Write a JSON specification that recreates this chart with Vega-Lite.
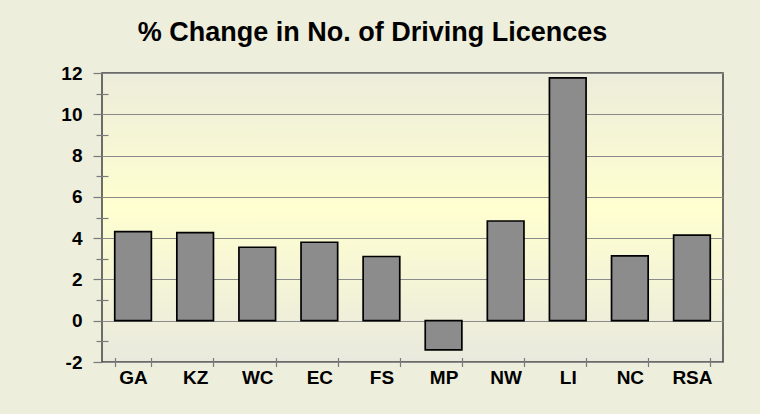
{
  "$schema": "https://vega.github.io/schema/vega-lite/v6.json",
  "width": 621,
  "height": 289,
  "autosize": "none",
  "padding": {"left": 102, "top": 73, "right": 37, "bottom": 52},
  "background": "#eeeedc",
  "view": {
    "fill": {
      "gradient": "linear",
      "x1": 0, "y1": 0, "x2": 0, "y2": 1,
      "stops": [
        {"offset": 0, "color": "#ececdb"},
        {"offset": 0.46, "color": "#ffffd0"},
        {"offset": 1, "color": "#e9e9de"}
      ]
    },
    "stroke": "#404040",
    "strokeWidth": 1.5
  },
  "title": {
    "text": "% Change in No. of Driving Licences",
    "font": "Liberation Sans",
    "fontSize": 27,
    "fontWeight": "bold",
    "color": "#000000",
    "anchor": "middle",
    "frame": "group",
    "dx": -40,
    "offset": 17
  },
  "config": {
    "font": "Liberation Sans",
    "axis": {
      "labelFont": "Liberation Sans",
      "labelFontSize": 19,
      "labelFontWeight": "bold",
      "labelColor": "#000000",
      "title": null
    }
  },
  "data": {
    "values": [
      {"region": "GA", "change": 4.32},
      {"region": "KZ", "change": 4.27},
      {"region": "WC", "change": 3.56},
      {"region": "EC", "change": 3.80},
      {"region": "FS", "change": 3.11},
      {"region": "MP", "change": -1.41},
      {"region": "NW", "change": 4.83},
      {"region": "LI", "change": 11.76},
      {"region": "NC", "change": 3.14},
      {"region": "RSA", "change": 4.15}
    ]
  },
  "resolve": {"axis": {"y": "independent"}},
  "layer": [
    {
      "mark": {"type": "bar", "fill": "#8c8c8c", "stroke": "#000000", "strokeWidth": 1.7},
      "encoding": {
        "x": {
          "field": "region",
          "type": "nominal",
          "sort": null,
          "scale": {"paddingInner": 0.41, "paddingOuter": 0.205},
          "axis": {
            "title": null,
            "labelAngle": 0,
            "domain": false,
            "tickBand": "extent",
            "ticks": true,
            "tickSize": 9,
            "offset": -4.5,
            "tickColor": "#7a7a7a",
            "tickWidth": 1.2,
            "labelPadding": 2
          }
        },
        "y": {
          "field": "change",
          "type": "quantitative",
          "scale": {"domain": [-2, 12], "nice": false, "zero": false},
          "axis": {
            "title": null,
            "values": [-2, 0, 2, 4, 6, 8, 10, 12],
            "labelExpr": "'' + datum.value",
            "domain": false,
            "grid": true,
            "gridColor": "#8a8a8a",
            "gridWidth": 1.2,
            "tickSize": 9,
            "tickColor": "#7a7a7a",
            "tickWidth": 1.2,
            "labelPadding": 11
          }
        }
      }
    },
    {
      "mark": {"type": "point", "opacity": 0},
      "encoding": {
        "y": {
          "field": "change",
          "type": "quantitative",
          "axis": {
            "orient": "left",
            "title": null,
            "values": [-1, 1, 3, 5, 7, 9, 11],
            "labels": false,
            "domain": false,
            "grid": false,
            "offset": -6,
            "tickSize": 12,
            "tickColor": "#7a7a7a",
            "tickWidth": 1.2
          }
        }
      }
    }
  ]
}
